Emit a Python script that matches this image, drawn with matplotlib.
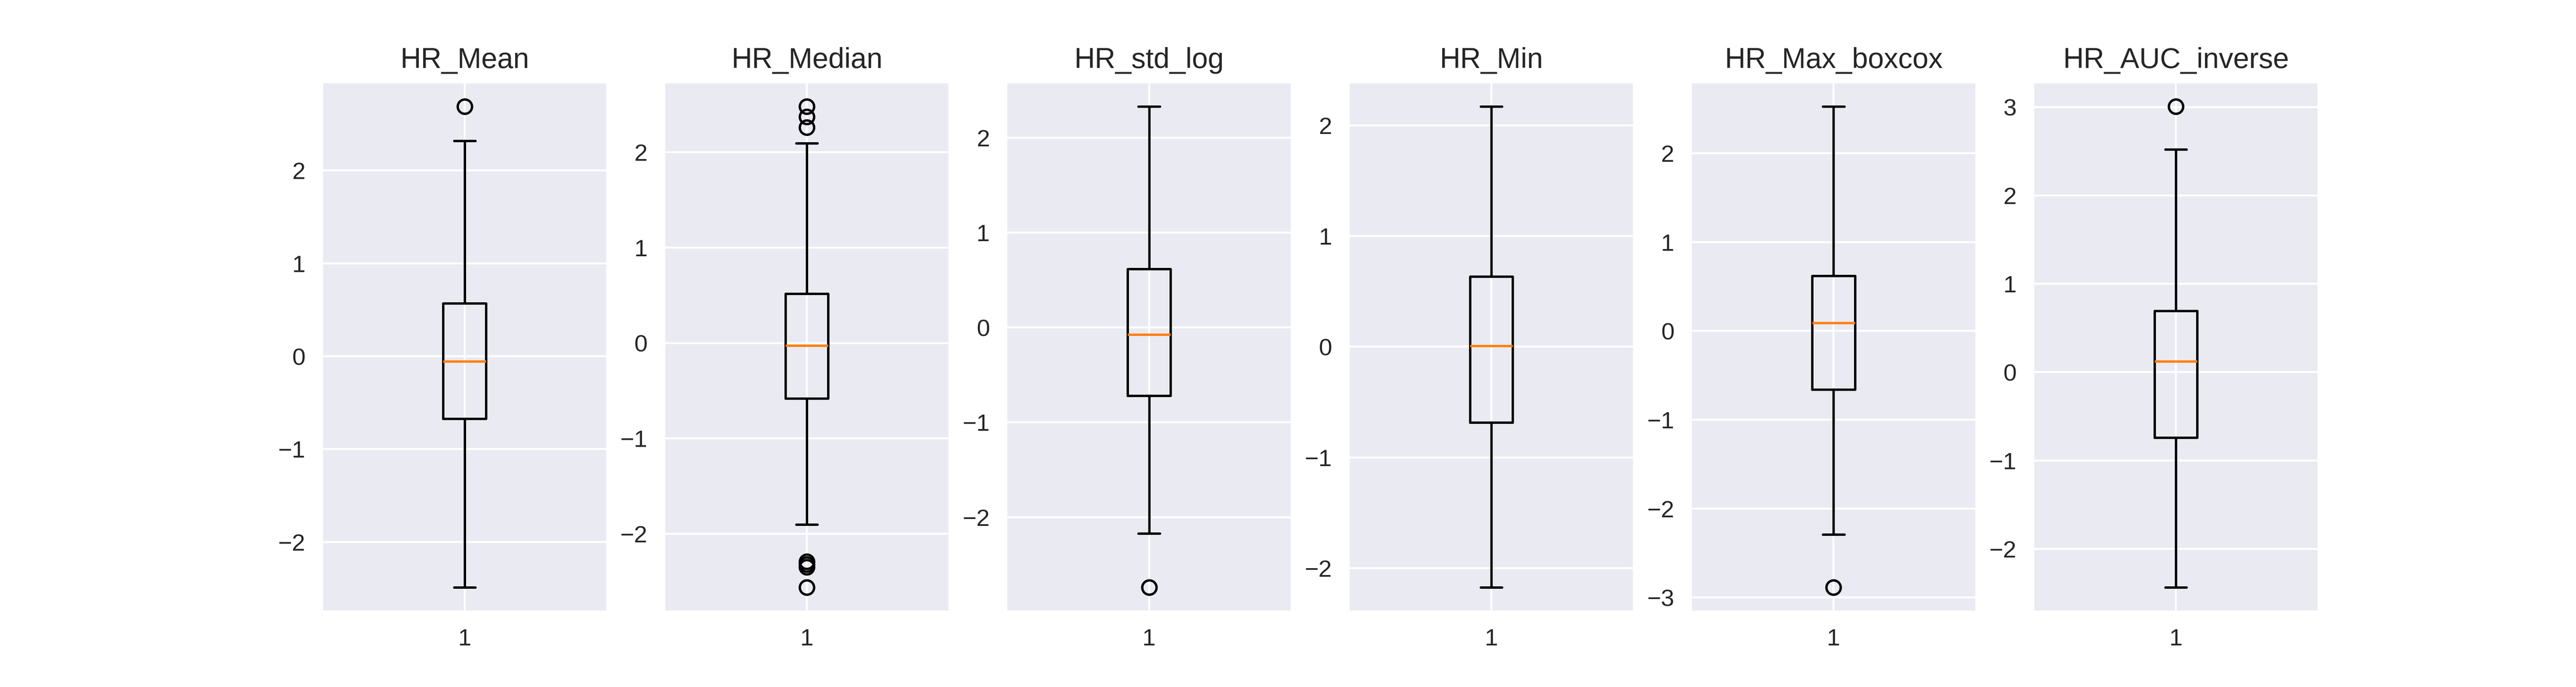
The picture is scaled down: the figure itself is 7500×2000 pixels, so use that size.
import numpy as np
import seaborn as sns
from matplotlib import pyplot as plt

# summary stats (standardised HR features)
names = ['HR_Mean', 'HR_Median', 'HR_std_log', 'HR_Min', 'HR_Max_boxcox', 'HR_AUC_inverse']
medians = [-0.057, -0.027, -0.074, 0.008, 0.089, 0.124]
q1 = [-0.675, -0.579, -0.720, -0.685, -0.661, -0.739]
q3 = [0.571, 0.517, 0.614, 0.634, 0.622, 0.694]
whislo = [-2.49, -1.903, -2.17, -2.174, -2.29, -2.435]
whishi = [2.32, 2.094, 2.328, 2.17, 2.527, 2.52]
fliers = [
    [2.69],
    [2.48, 2.372, 2.262, -2.29, -2.32, -2.35, -2.561],
    [-2.74],
    [],
    [-2.887],
    [3.006],
]

# style only, keep matplotlib's default colours and sizes
sns.set_style('darkgrid')
plt.rcParams['font.family'] = ['Liberation Sans', 'DejaVu Sans']

fig, axes = plt.subplots(1, len(names), figsize=(15, 4))
for i, ax in enumerate(axes):
    stats = {
        'med': medians[i],
        'q1': q1[i],
        'q3': q3[i],
        'whislo': whislo[i],
        'whishi': whishi[i],
        'fliers': np.array(fliers[i]),
        'label': '1',
    }
    ax.bxp([stats])
    ax.set_title(names[i])

plt.savefig('out.png', dpi=500)
